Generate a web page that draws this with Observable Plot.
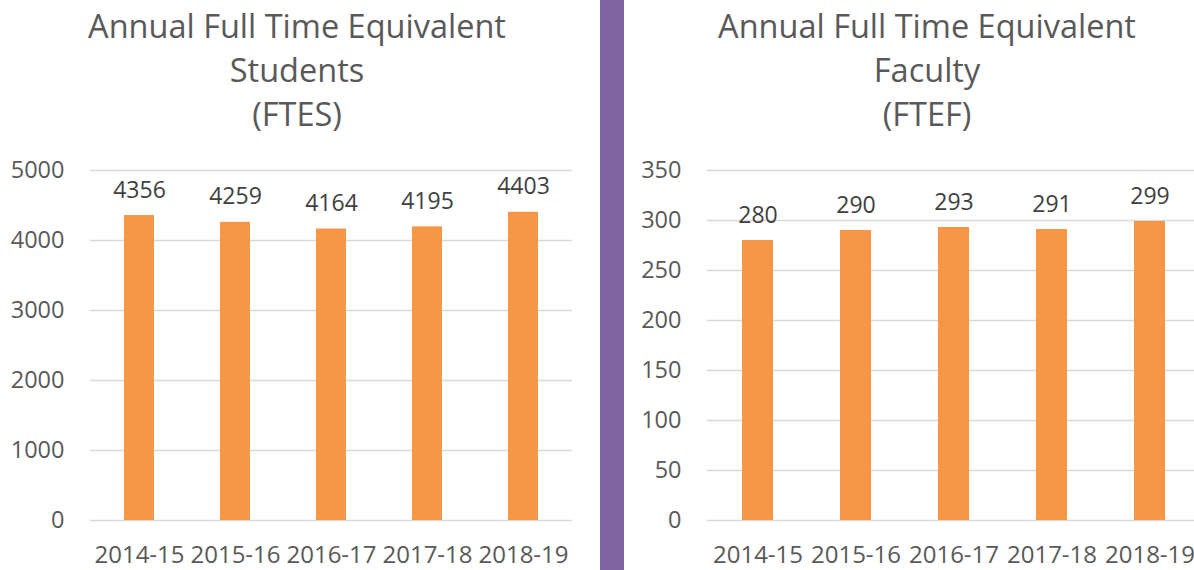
<!DOCTYPE html>
<html><head><meta charset="utf-8">
<script src="https://cdn.jsdelivr.net/npm/d3@7"></script>
<script src="https://cdn.jsdelivr.net/npm/@observablehq/plot@0.6"></script>
<style>
html,body{margin:0;padding:0;background:#fff;}
#wrap{position:relative;width:1194px;height:570px;overflow:hidden;font-family:"Open Sans",sans-serif;color:#595959;}
.title{position:absolute;top:4px;text-align:center;font-size:32.5px;line-height:44px;color:#595959;white-space:nowrap;}
.panel{position:absolute;top:140px;}
.panel svg{max-width:none !important;}
#divider{position:absolute;left:600px;top:0;width:24px;height:570px;background:#8064a2;}
</style></head>
<body>
<div id="wrap">
  <div class="title" style="left:0;width:594px;">Annual Full Time Equivalent<br>Students<br>(FTES)</div>
  <div class="title" style="left:630px;width:594px;">Annual Full Time Equivalent<br>Faculty<br>(FTEF)</div>
  <div class="panel" id="left" style="left:0;width:600px;"></div>
  <div class="panel" id="right" style="left:600px;width:610px;"></div>
  <div id="divider"></div>
</div>
<script>
const years = ["2014-15","2015-16","2016-17","2017-18","2018-19"];
const ftes = [4356, 4259, 4164, 4195, 4403];
const ftef = [280, 290, 293, 291, 299];
const ftesTicks = [0,1000,2000,3000,4000,5000];
const ftefTicks = [0,50,100,150,200,250,300,350];

function chart(values, ticks, width, ml, mr) {
  const data = years.map((y,i)=>({year:y, value:values[i]}));
  return Plot.plot({
    width, height:430, marginTop:30, marginBottom:50, marginLeft:ml, marginRight:mr,
    style:{fontFamily:"'Open Sans',sans-serif", fontSize:"23px", color:"#595959", background:"transparent", overflow:"visible", maxWidth:"none"},
    x:{domain:years, paddingInner:0.685, paddingOuter:0.3425, label:null},
    y:{domain:[0, ticks[ticks.length-1]], label:null},
    marks:[
      Plot.ruleY(ticks, {stroke:"#d9d9d9", strokeWidth:1.5}),
      Plot.barY(data, {x:"year", y:"value", fill:"#f79646"}),
      Plot.text(data, {x:"year", y:"value", text:d=>String(d.value), dy:-18, lineAnchor:"bottom", fontSize:23, fill:"#404040"}),
      Plot.axisY({ticks, tickSize:0, tickPadding:26, tickFormat:d=>String(d), fontSize:23.5}),
      Plot.axisX({tickSize:0, tickPadding:25, fontSize:24})
    ]
  });
}
document.getElementById("left").appendChild(chart(ftes, ftesTicks, 600, 90, 28));
document.getElementById("right").appendChild(chart(ftef, ftefTicks, 610, 107, 10));
</script>
</body></html>
